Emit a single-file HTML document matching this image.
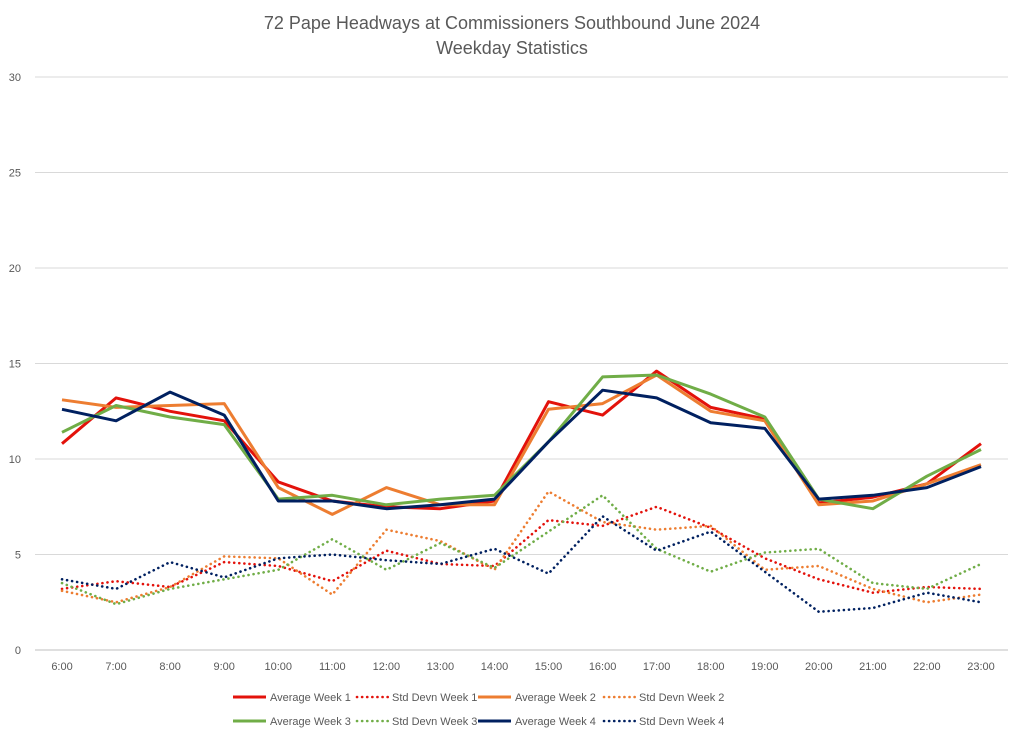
<!DOCTYPE html>
<html><head><meta charset="utf-8"><style>
body{margin:0;background:#fff;}
svg{display:block;font-family:"Liberation Sans",sans-serif;}
</style></head><body>
<svg id="chart" width="1024" height="740" viewBox="0 0 1024 740" xmlns="http://www.w3.org/2000/svg">
<text x="512" y="29" text-anchor="middle" font-size="18" fill="#595959">72 Pape Headways at Commissioners Southbound June 2024</text>
<text x="512" y="54" text-anchor="middle" font-size="18" fill="#595959">Weekday Statistics</text>
<g id="grid"></g>
<g id="series"></g>
<g id="legend"></g>
</svg>
<script>
const categories=["6:00","7:00","8:00","9:00","10:00","11:00","12:00","13:00","14:00","15:00","16:00","17:00","18:00","19:00","20:00","21:00","22:00","23:00"];
const yTicks=[0,5,10,15,20,25,30];
const avgW1=[10.8,13.2,12.5,12.0,8.8,7.8,7.5,7.4,7.8,13.0,12.3,14.6,12.7,12.1,7.7,8.0,8.7,10.8];
const avgW2=[13.1,12.7,12.8,12.9,8.5,7.1,8.5,7.6,7.6,12.6,12.9,14.4,12.5,12.0,7.6,7.8,8.7,9.7];
const avgW3=[11.4,12.8,12.2,11.8,7.9,8.1,7.6,7.9,8.1,10.9,14.3,14.4,13.4,12.2,7.9,7.4,9.1,10.5];
const avgW4=[12.6,12.0,13.5,12.3,7.8,7.8,7.4,7.6,7.9,10.9,13.6,13.2,11.9,11.6,7.9,8.1,8.5,9.6];
const sdW1=[3.2,3.6,3.3,4.6,4.4,3.6,5.2,4.5,4.4,6.8,6.5,7.5,6.4,4.8,3.7,3.0,3.3,3.2];
const sdW2=[3.1,2.5,3.3,4.9,4.8,2.9,6.3,5.7,4.2,8.3,6.7,6.3,6.5,4.2,4.4,3.2,2.5,2.9];
const sdW3=[3.5,2.4,3.2,3.7,4.2,5.8,4.2,5.6,4.3,6.2,8.1,5.3,4.1,5.1,5.3,3.5,3.2,4.5];
const sdW4=[3.7,3.2,4.6,3.8,4.8,5.0,4.7,4.5,5.3,4.0,7.0,5.2,6.2,4.1,2.0,2.2,3.0,2.5];

const NS="http://www.w3.org/2000/svg";
const X0=35,X1=1008,Y0=650,Y1=77,YMAX=30;
const step=(X1-X0)/categories.length;
function xPos(i){return X0+step*(i+0.5);}
function yPos(v){return Y0-(v/YMAX)*(Y0-Y1);}
function mk(tag,attrs,parent){const e=document.createElementNS(NS,tag);for(const k in attrs)e.setAttribute(k,attrs[k]);parent.appendChild(e);return e;}
const grid=document.getElementById('grid');
yTicks.forEach(t=>{
  const l=mk('line',{x1:X0,x2:X1,y1:yPos(t),y2:yPos(t),stroke:t===0?'#bfbfbf':'#d9d9d9','stroke-width':1},grid);
  
  
  const tx=mk('text',{x:21,y:yPos(t)+4,'text-anchor':'end','font-size':11,fill:'#595959'},grid);
  tx.textContent=t;
  
  
});
categories.forEach((c,i)=>{
  const tx=mk('text',{x:xPos(i),y:670,'text-anchor':'middle','font-size':11,fill:'#595959'},grid);
  tx.textContent=c;
  
  
});
const series=[
 {name:"Average Week 1",data:avgW1,color:"#e3120b",dot:false},
 {name:"Std Devn Week 1",data:sdW1,color:"#e3120b",dot:true},
 {name:"Average Week 2",data:avgW2,color:"#ed7d31",dot:false},
 {name:"Std Devn Week 2",data:sdW2,color:"#ed7d31",dot:true},
 {name:"Average Week 3",data:avgW3,color:"#70ad47",dot:false},
 {name:"Std Devn Week 3",data:sdW3,color:"#70ad47",dot:true},
 {name:"Average Week 4",data:avgW4,color:"#002060",dot:false},
 {name:"Std Devn Week 4",data:sdW4,color:"#002060",dot:true}
];
const sg=document.getElementById('series');
const order=[1,3,5,7,0,2,4,6];
order.forEach(si=>{
  const s=series[si];
  const pts=s.data.map((v,i)=>xPos(i).toFixed(1)+','+yPos(v).toFixed(1)).join(' ');
  const a={points:pts,fill:'none',stroke:s.color,'stroke-width':s.dot?2.6:3,'stroke-linejoin':'round'};
  if(s.dot){a['stroke-dasharray']='0.1 5';a['stroke-linecap']='round';}
  const p=mk('polyline',a,sg);
  
  
});
const lg=document.getElementById('legend');
const lx=[233,355,478,602];
series.forEach((s,i)=>{
  const row=Math.floor(i/4),col=i%4;
  const y=row?721:697,x=lx[col];
  const g=mk('g',{},lg);
  
  
  const a={x1:x,x2:x+33,y1:y,y2:y,stroke:s.color,'stroke-width':s.dot?2.6:3};
  if(s.dot){a['stroke-dasharray']='0.1 5';a['stroke-linecap']='round';a.x1=x+2;}
  mk('line',a,g);
  const t=mk('text',{x:x+37,y:y+4,'font-size':11,fill:'#595959'},g);
  t.textContent=s.name;
});
</script>
</body></html>
